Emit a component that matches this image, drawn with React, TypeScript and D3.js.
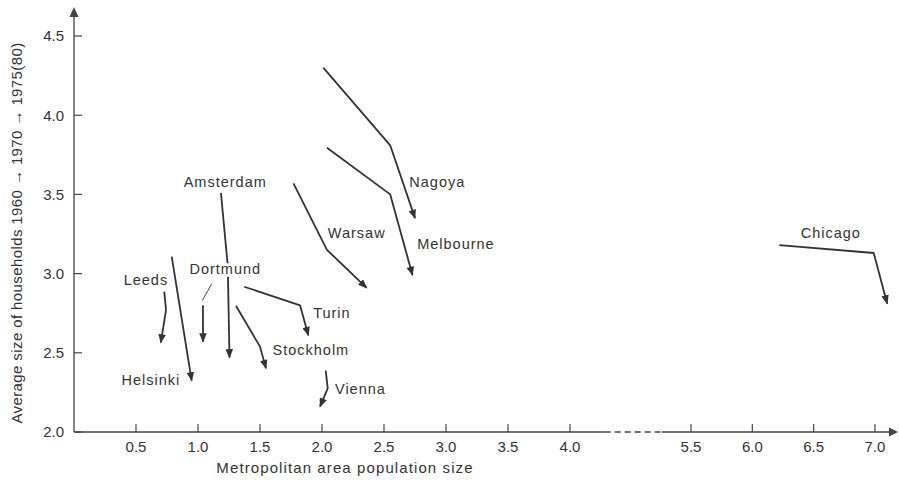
import { useEffect } from 'react';
import * as d3 from 'd3';

// household size paths: 1960 -> 1970 -> 1975(80)
const cities = ['Nagoya', 'Melbourne', 'Warsaw', 'Chicago', 'Amsterdam', 'Dortmund', 'Leeds', 'Helsinki', 'Turin', 'Stockholm', 'Vienna'];
const popSize = [
  [2.01, 2.55, 2.75],
  [2.04, 2.55, 2.73],
  [1.77, 2.04, 2.36],
  [6.22, 6.99, 7.10],
  [1.185, 1.24, 1.254],
  [1.04, 1.04],
  [0.728, 0.742, 0.70],
  [0.788, 0.949],
  [1.373, 1.823, 1.89],
  [1.306, 1.50, 1.548],
  [2.03, 2.046, 1.984],
];
const hhSize = [
  [4.30, 3.81, 3.35],
  [3.795, 3.50, 2.99],
  [3.57, 3.15, 2.91],
  [3.18, 3.13, 2.81],
  [3.51, 3.05, 2.47],
  [2.80, 2.57],
  [2.886, 2.77, 2.564],
  [3.107, 2.324],
  [2.917, 2.80, 2.61],
  [2.797, 2.539, 2.402],
  [2.387, 2.276, 2.16],
];
// label anchors (data units)
const labelX = [2.93, 3.08, 2.28, 6.64, 1.22, 1.22, 0.58, 0.62, 2.08, 1.91, 2.31];
const labelY = [3.58, 3.19, 3.26, 3.26, 3.58, 3.03, 2.96, 2.33, 2.75, 2.52, 2.27];
const dortmundLeader = [[1.035, 2.83], [1.11, 2.935]];

const xTicks = [0.5, 1.0, 1.5, 2.0, 2.5, 3.0, 3.5, 4.0, 5.5, 6.0, 6.5, 7.0];
const yTicks = [2.0, 2.5, 3.0, 3.5, 4.0, 4.5];

const W = 899;
const H = 482;
const ink = '#333';
const font = '"Liberation Sans", Arial, sans-serif';

export default function App() {
  useEffect(() => {
    document.body.style.margin = '0';
  }, []);

  // broken axis: 4.0 -> 5.5 compressed
  const x = d3.scaleLinear().domain([0, 4, 5.5, 7.4]).range([74, 570, 691, 924]);
  const y = d3.scaleLinear().domain([2, 4.5]).range([432, 36]);
  const line = d3.line<[number, number]>().x(d => x(d[0])).y(d => y(d[1]));

  const x0 = x(0);
  const y0 = y(2);
  const breakA = x(4.43);
  const breakB = x(5.14);

  return (
    <svg width={W} height={H} style={{ display: 'block', background: '#fff' }} fontFamily={font}>
      <defs>
        <marker id="ah" viewBox="0 0 10 8" refX="9" refY="4" markerWidth="10" markerHeight="7.5"
          markerUnits="userSpaceOnUse" orient="auto">
          <path d="M0,0 L10,4 L0,8 z" fill={ink} />
        </marker>
      </defs>

      {/* axes */}
      <g stroke="#444" strokeWidth={1.3} fill="none">
        <line x1={x0} y1={y0} x2={x0} y2={16} />
        <line x1={x0} y1={y0} x2={breakA} y2={y0} />
        <line x1={breakA} y1={y0} x2={breakB} y2={y0} strokeDasharray="6,4" />
        <line x1={breakB} y1={y0} x2={890} y2={y0} />
      </g>
      <path d={`M${x0 - 4.5},${17} L${x0},${7} L${x0 + 4.5},${17} z`} fill="#444" />
      <path d={`M889,${y0 - 4.5} L898,${y0} L889,${y0 + 4.5} z`} fill="#444" />

      {yTicks.map(t => (
        <g key={'y' + t}>
          <line x1={x0} x2={x0 + 8} y1={y(t)} y2={y(t)} stroke="#444" strokeWidth={1.2} />
          <text x={64} y={y(t)} dy="0.36em" textAnchor="end" fontSize={15} fill={ink}>{t.toFixed(1)}</text>
        </g>
      ))}
      {xTicks.map(t => (
        <g key={'x' + t}>
          <line x1={x(t)} x2={x(t)} y1={y0} y2={y0 - 8} stroke="#444" strokeWidth={1.2} />
          <text x={x(t)} y={452} textAnchor="middle" fontSize={15} fill={ink}>{t.toFixed(1)}</text>
        </g>
      ))}

      <text x={345} y={473} textAnchor="middle" fontSize={15} fill={ink} letterSpacing={1.1}>
        Metropolitan area population size
      </text>
      <text transform="translate(22,233) rotate(-90)" textAnchor="middle" fontSize={15} fill={ink} letterSpacing={0.4}>
        Average size of households 1960 → 1970 → 1975(80)
      </text>

      {/* city paths */}
      <g fill="none" stroke={ink} strokeWidth={1.8} strokeLinejoin="round">
        {cities.map((c, i) => {
          const pts = popSize[i].map((v, j) => [v, hhSize[i][j]] as [number, number]);
          return <path key={c} d={line(pts) || ''} markerEnd="url(#ah)" />;
        })}
        <path d={line(dortmundLeader as [number, number][]) || ''} strokeWidth={0.9} />
      </g>

      {cities.map((c, i) => (
        <text key={'l' + c} x={x(labelX[i])} y={y(labelY[i])} dy="0.36em" textAnchor="middle"
          fontSize={14.5} fill={ink} letterSpacing={1}
          stroke="#fff" strokeWidth={6} paintOrder="stroke" strokeLinejoin="round">
          {c}
        </text>
      ))}
    </svg>
  );
}
